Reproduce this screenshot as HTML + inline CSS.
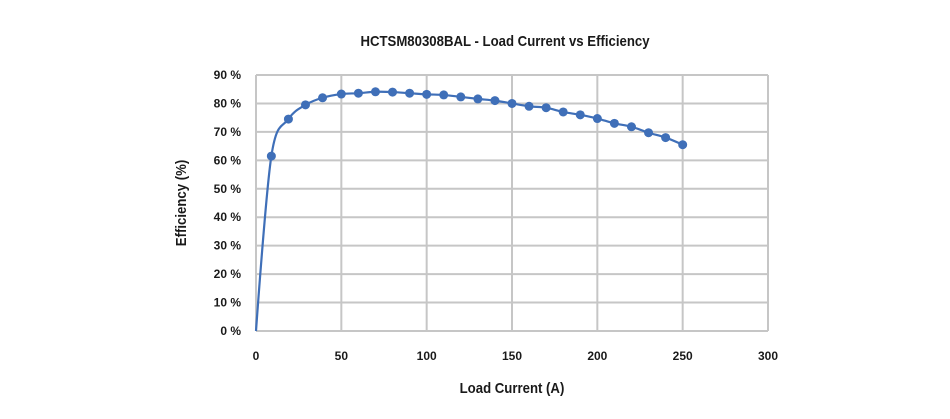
<!DOCTYPE html>
<html><head><meta charset="utf-8"><style>
html,body{margin:0;padding:0;background:#fff;width:950px;height:419px;overflow:hidden}
svg text{font-family:"Liberation Sans",sans-serif;font-weight:bold;fill:#1a1a1a}
</style></head><body>
<svg id="chart" width="950" height="419" xmlns="http://www.w3.org/2000/svg">
<text x="505" y="46" text-anchor="middle" font-size="15" transform="translate(505,0) scale(0.88,1) translate(-505,0)">HCTSM80308BAL - Load Current vs Efficiency</text>
<g id="grid"></g>
<g id="ticks"></g>
<text transform="translate(186,203) rotate(-90) scale(0.88,1)" text-anchor="middle" font-size="15">Efficiency (%)</text>
<text x="512" y="393" text-anchor="middle" font-size="15" transform="translate(512,0) scale(0.88,1) translate(-512,0)">Load Current (A)</text>
<g id="series"></g>
</svg>
<script>
const xTicks=[0,50,100,150,200,250,300];
const yTicks=[0,10,20,30,40,50,60,70,80,90];
const current=[0,9,19,29,39,50,60,70,80,90,100,110,120,130,140,150,160,170,180,190,200,210,220,230,240,250];
const efficiency=[0,61.5,74.5,79.5,82,83.3,83.6,84.1,84,83.6,83.2,83,82.3,81.6,81,80,79,78.5,77,76,74.7,73,71.8,69.7,68,65.5];
const X0=256,X1=768,Y0=331,Y1=75;
const sx=v=>X0+(v-0)/300*(X1-X0);
const sy=v=>Y0-(v/90)*(Y0-Y1);
const NS="http://www.w3.org/2000/svg";
function mk(t,a,p){const e=document.createElementNS(NS,t);for(const k in a)e.setAttribute(k,a[k]);p.appendChild(e);return e;}
const grid=document.getElementById('grid'),ticks=document.getElementById('ticks'),ser=document.getElementById('series');
xTicks.forEach(v=>{
 const l=mk('line',{x1:sx(v),x2:sx(v),y1:Y1,y2:Y0,stroke:'#c6c6c6','stroke-width':2},grid);
 
 
 const t=mk('text',{x:sx(v),y:360,'text-anchor':'middle','font-size':12},ticks);t.textContent=v;
 
 
});
yTicks.forEach(v=>{
 const l=mk('line',{x1:X0,x2:X1,y1:sy(v),y2:sy(v),stroke:'#c6c6c6','stroke-width':2},grid);
 
 
 const t=mk('text',{x:241,y:sy(v)+4,'text-anchor':'end','font-size':12},ticks);t.textContent=v+' %';
 
 
});
const pts=current.map((c,i)=>[sx(c),sy(efficiency[i])]);
let d='M'+pts[0][0]+','+pts[0][1];
for(let i=0;i<pts.length-1;i++){
 const p0=pts[Math.max(0,i-1)],p1=pts[i],p2=pts[i+1],p3=pts[Math.min(pts.length-1,i+2)];
 const k=i===0?0:1/6;
 d+=' C'+(p1[0]+(p2[0]-p0[0])*k)+','+(p1[1]+(p2[1]-p0[1])*k)+' '+(p2[0]-(p3[0]-p1[0])/6)+','+(p2[1]-(p3[1]-p1[1])/6)+' '+p2[0]+','+p2[1];
}
const path=mk('path',{d:d,fill:'none',stroke:'#3f6fb8','stroke-width':2.2},ser);


pts.forEach((p,i)=>{if(i===0)return;
 const c=mk('circle',{cx:p[0],cy:p[1],r:4.5,fill:'#3f6fb8'},ser);
 
 
});
</script>
</body></html>
